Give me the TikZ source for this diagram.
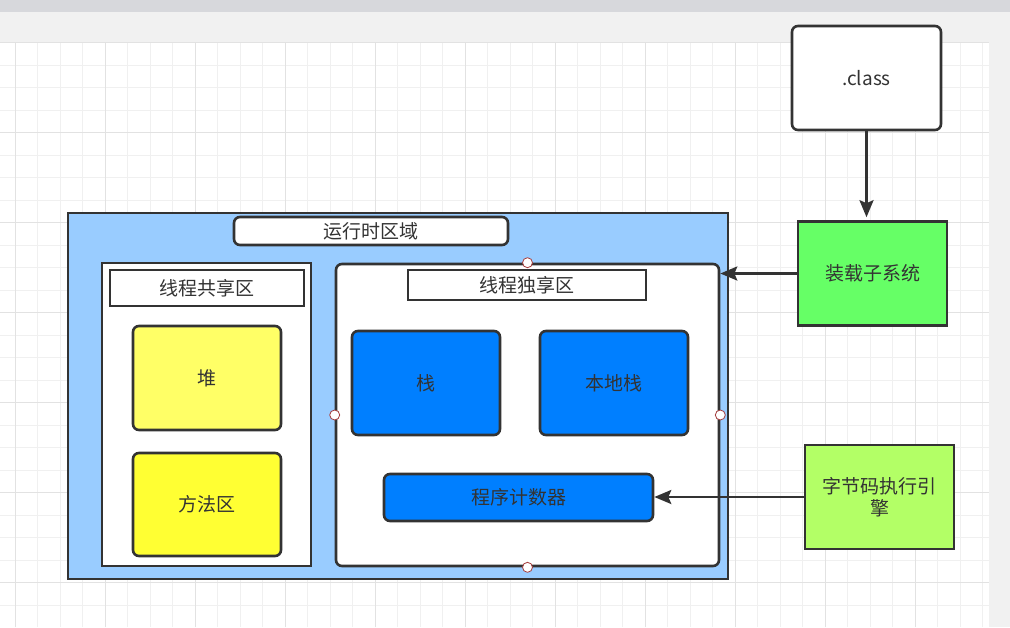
\documentclass[tikz,border=0pt]{standalone}
\usepackage{fontspec}
\setmainfont{Noto Sans CJK SC}
\usetikzlibrary{arrows.meta}
\definecolor{edge}{RGB}{51,51,51}
\definecolor{canvas}{RGB}{241,241,241}
\definecolor{topbar}{RGB}{215,216,220}
\definecolor{gridminor}{RGB}{240,240,240}
\definecolor{gridmajor}{RGB}{226,226,226}
\definecolor{areablue}{RGB}{153,204,255}
\definecolor{loadgreen}{RGB}{102,255,102}
\definecolor{enginegreen}{RGB}{179,255,102}
\definecolor{heapyellow}{RGB}{255,255,102}
\definecolor{methodyellow}{RGB}{255,255,51}
\definecolor{stackblue}{RGB}{0,127,255}
\definecolor{pointred}{RGB}{165,60,60}

\tikzset{
  box/.style={draw=edge, line width=2.6pt, inner sep=0pt, text=edge,
    font=\fontsize{19}{22}\selectfont, align=center},
  roundbox/.style={box, rounded corners=6pt},
  flow/.style={draw=edge, line width=2.6pt,
    -{Stealth[length=17pt,width=14pt,inset=3pt]}},
  joint/.style={circle, draw=pointred, fill=white, line width=0.8pt,
    minimum size=10pt, inner sep=0pt},
}

\begin{document}
\begin{tikzpicture}[x=1pt,y=-1pt]
  \useasboundingbox (0,0) rectangle (1010,627);
  % page and grid
  \fill[canvas] (0,0) rectangle (1010,627);
  \fill[topbar] (0,0) rectangle (1010,12);
  \fill[white] (0,42) rectangle (989,627);
  \draw[gridminor, line width=1pt, shift={(15,42.5)}, step=22.5pt] (-15,584.5) grid (974,0);
  \draw[gridmajor, line width=1pt, shift={(15,42.5)}, step=90pt] (-15,584.5) grid (974,0);

  % runtime data area
  \node[box, fill=areablue, minimum width=660, minimum height=366] (runtime) at (398,396) {};
  \node[roundbox, fill=white, minimum width=274, minimum height=28] (runtimelabel) at (371,231) {运行时区域};

  \node[box, fill=white, minimum width=209, minimum height=303] (shared) at (206.5,414.5) {};
  \node[box, fill=white, minimum width=194, minimum height=36] (sharedlabel) at (207,288) {线程共享区};
  \node[roundbox, fill=heapyellow, minimum width=148, minimum height=104] (heap) at (207,378) {堆};
  \node[roundbox, fill=methodyellow, minimum width=148, minimum height=103] (method) at (207,504.5) {方法区};

  \node[roundbox, fill=white, minimum width=383, minimum height=302] (priv) at (527.5,415) {};
  \node[box, fill=white, minimum width=238, minimum height=30] (privlabel) at (527,285) {线程独享区};
  \node[roundbox, fill=stackblue, minimum width=148, minimum height=104] (stack) at (426,383) {栈};
  \node[roundbox, fill=stackblue, minimum width=148, minimum height=104] (native) at (614,383) {本地栈};
  \node[roundbox, fill=stackblue, minimum width=269, minimum height=47] (pc) at (518.5,497.5) {程序计数器};

  \node[joint] (jn) at (priv.north) {};
  \node[joint] (jw) at (priv.west) {};
  \node[joint] (je) at (priv.east) {};
  \node[joint] (js) at (priv.south) {};

  % outside
  \node[roundbox, fill=white, minimum width=149, minimum height=104] (class) at (866.5,78) {.class};
  \node[box, fill=loadgreen, minimum width=149, minimum height=104] (load) at (872.5,273.5) {装载子系统};
  \node[box, fill=enginegreen, minimum width=149, minimum height=104] (engine) at (879.5,497) {字节码执行引\\擎};

  \draw[flow, shorten >=3pt] (class.south) -- (class.south |- load.north);
  \draw[flow] (load.west) -- (load.west -| priv.east);
  \draw[flow] (engine.west) -- (engine.west -| pc.east);
\end{tikzpicture}
\end{document}
